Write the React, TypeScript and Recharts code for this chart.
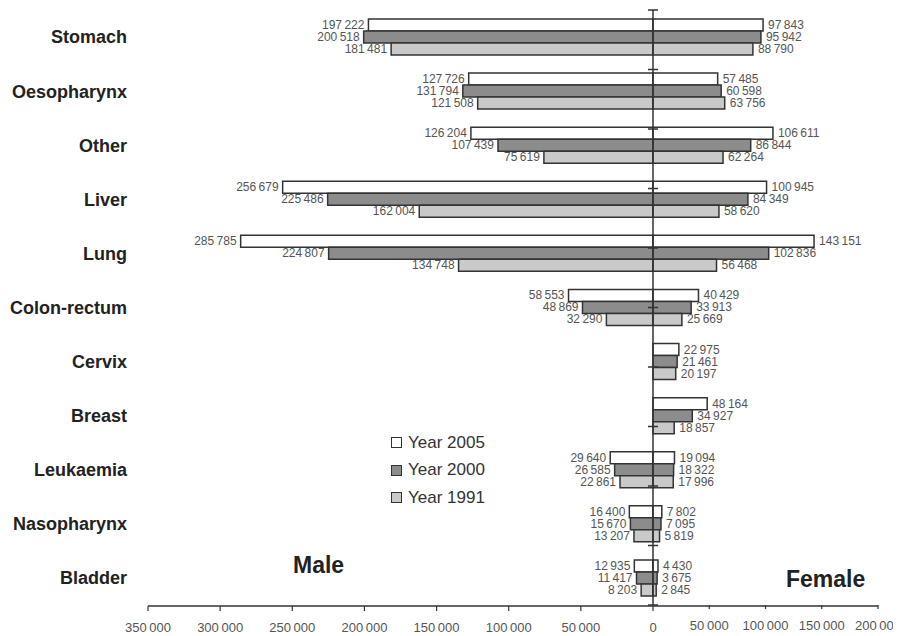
import React from 'react';
import {
  BarChart, Bar, XAxis, YAxis, ReferenceLine, Legend, LabelList,
} from 'recharts';

const categories = [
  'Stomach', 'Oesopharynx', 'Other', 'Liver', 'Lung', 'Colon-rectum',
  'Cervix', 'Breast', 'Leukaemia', 'Nasopharynx', 'Bladder',
];

const male2005 = [197222, 127726, 126204, 256679, 285785, 58553, null, null, 29640, 16400, 12935];
const male2000 = [200518, 131794, 107439, 225486, 224807, 48869, null, null, 26585, 15670, 11417];
const male1991 = [181481, 121508, 75619, 162004, 134748, 32290, null, null, 22861, 13207, 8203];

const female2005 = [97843, 57485, 106611, 100945, 143151, 40429, 22975, 48164, 19094, 7802, 4430];
const female2000 = [95942, 60598, 86844, 84349, 102836, 33913, 21461, 34927, 18322, 7095, 3675];
const female1991 = [88790, 63756, 62264, 58620, 56468, 25669, 20197, 18857, 17996, 5819, 2845];

const maleTicks = [0, 50000, 100000, 150000, 200000, 250000, 300000, 350000];
const femaleTicks = [50000, 100000, 150000, 200000];

const series = [
  { key: 'y2005', name: 'Year 2005', fill: '#ffffff' },
  { key: 'y2000', name: 'Year 2000', fill: '#8c8c8c' },
  { key: 'y1991', name: 'Year 1991', fill: '#c9c9c9' },
];
const maleBy: Record<string, (number | null)[]> = { y2005: male2005, y2000: male2000, y1991: male1991 };
const femaleBy: Record<string, (number | null)[]> = { y2005: female2005, y2000: female2000, y1991: female1991 };

const data = categories.map((name, i) => {
  const row: any = { name };
  series.forEach((s) => {
    row['m_' + s.key] = maleBy[s.key][i];
    row['f_' + s.key] = femaleBy[s.key][i];
  });
  return row;
});

const FONT = '"Liberation Sans", Arial, Helvetica, sans-serif';
const INK = '#333';

const fmt = (v: number) => String(v).replace(/\B(?=(\d{3})+(?!\d))/g, '\u2009');

const makeLabel = (side: 'left' | 'right') => (p: any) => {
  let v = p.value;
  if (Array.isArray(v)) v = v[1] - v[0];
  if (v == null || Number.isNaN(Number(v))) return null;
  v = Math.abs(Number(v));
  const x = Number(p.x);
  const w = Number(p.width);
  const left = Math.min(x, x + w);
  const right = Math.max(x, x + w);
  const cy = Number(p.y) + Number(p.height) / 2;
  return (
    <text
      x={side === 'left' ? left - 4 : right + 5}
      y={cy}
      dy={4}
      textAnchor={side === 'left' ? 'end' : 'start'}
      fontSize={12}
      fontFamily={FONT}
      fill="#555"
    >
      {fmt(v)}
    </text>
  );
};

const LegendBox = () => (
  <div style={{ fontFamily: FONT, fontSize: 17, color: INK }}>
    {series.map((s) => (
      <div key={s.key} style={{ display: 'flex', alignItems: 'center', height: 27.5 }}>
        <span
          style={{
            display: 'inline-block', width: 9, height: 9, background: s.fill,
            border: `1.5px solid ${INK}`, marginRight: 6,
          }}
        />
        {s.name}
      </div>
    ))}
  </div>
);

const tickStyle = { fontSize: 13, fill: '#555', fontFamily: FONT };

export default function App() {
  return (
    <div style={{ position: 'relative', width: 893, height: 628, fontFamily: FONT }}>
      <BarChart
        width={893}
        height={628}
        data={data}
        layout="vertical"
        barGap={0}
        barSize={12}
        margin={{ top: 2, right: 23, left: 0, bottom: 29 }}
      >
        <XAxis
          xAxisId="m"
          type="number"
          orientation="bottom"
          reversed
          domain={[-155941, 350000]}
          allowDataOverflow
          ticks={maleTicks}
          tickFormatter={fmt}
          height={1}
          tickSize={5}
          tickMargin={12}
          tick={tickStyle}
          axisLine={{ stroke: INK, strokeWidth: 1.5 }}
          tickLine={{ stroke: INK, strokeWidth: 1.2 }}
        />
        <XAxis
          xAxisId="f"
          type="number"
          orientation="bottom"
          domain={[-448889, 200000]}
          allowDataOverflow
          ticks={femaleTicks}
          tickFormatter={fmt}
          height={1}
          tickSize={4}
          tickMargin={12}
          tick={tickStyle}
          axisLine={false}
          tickLine={{ stroke: INK, strokeWidth: 1.2 }}
        />
        <YAxis
          yAxisId="c"
          type="category"
          dataKey="name"
          width={140}
          axisLine={false}
          tickLine={false}
          tickMargin={15}
          tick={{ fontSize: 18, fontWeight: 'bold', fill: '#222', fontFamily: FONT }}
        />
        <YAxis yAxisId="n" type="number" domain={[0, categories.length]} reversed hide allowDataOverflow />

        {series.map((s) => (
          <Bar
            key={'m_' + s.key}
            dataKey={'m_' + s.key}
            xAxisId="m"
            yAxisId="c"
            stackId={s.key}
            fill={s.fill}
            stroke={INK}
            strokeWidth={1.5}
            isAnimationActive={false}
          >
            <LabelList dataKey={'m_' + s.key} content={makeLabel('left')} />
          </Bar>
        ))}
        {series.map((s) => (
          <Bar
            key={'f_' + s.key}
            dataKey={'f_' + s.key}
            xAxisId="f"
            yAxisId="c"
            stackId={s.key}
            fill={s.fill}
            stroke={INK}
            strokeWidth={1.5}
            isAnimationActive={false}
          >
            <LabelList dataKey={'f_' + s.key} content={makeLabel('right')} />
          </Bar>
        ))}

        <ReferenceLine xAxisId="m" yAxisId="c" x={0} stroke={INK} strokeWidth={1.5} />
        {categories.map((c, i) => (
          <ReferenceLine
            key={c}
            xAxisId="m"
            yAxisId="n"
            segment={[{ x: -3500, y: i }, { x: 3500, y: i }]}
            stroke={INK}
            strokeWidth={1.5}
          />
        ))}

        <Legend
          layout="vertical"
          align="center"
          verticalAlign="middle"
          content={() => <LegendBox />}
          wrapperStyle={{ position: 'absolute', left: 383, top: 421, width: 140 }}
        />
      </BarChart>
      <div style={{ position: 'absolute', left: 285, top: 546, fontSize: 23, fontWeight: 'bold', lineHeight: 1, color: '#222' }}>
        Male
      </div>
      <div style={{ position: 'absolute', left: 778, top: 560, fontSize: 23, fontWeight: 'bold', lineHeight: 1, color: '#222' }}>
        Female
      </div>
    </div>
  );
}
